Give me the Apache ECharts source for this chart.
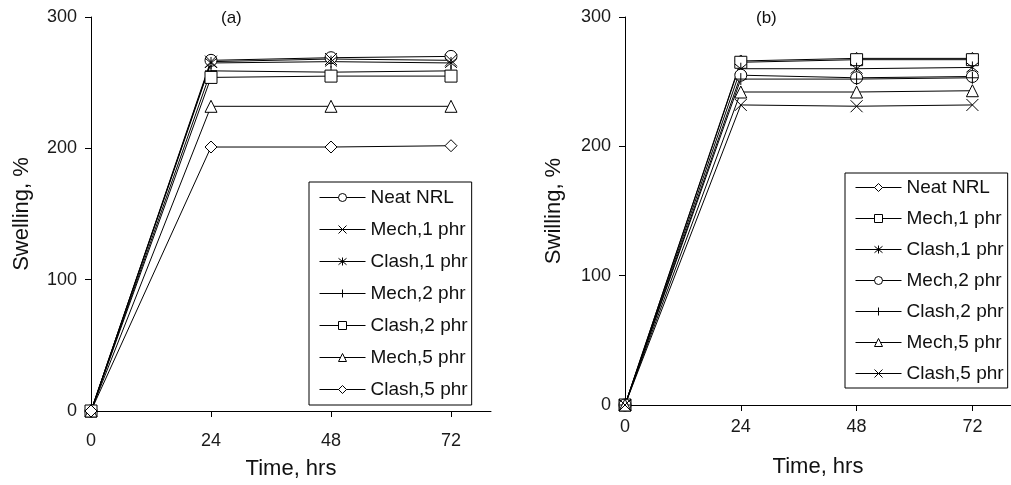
<!DOCTYPE html>
<html>
<head>
<meta charset="utf-8">
<title>Swelling vs time</title>
<script src="https://cdn.jsdelivr.net/npm/echarts@6/dist/echarts.min.js"></script>
<style>
  html, body { margin: 0; padding: 0; background: #fff; }
  #main { width: 1011px; height: 485px; }
</style>
</head>
<body>
<div id="main"></div>
<script type="text/javascript">
// time points (hrs)
var hours = [0, 24, 48, 72];

// panel (a)
var namesA = ['Neat NRL', 'Mech,1 phr', 'Clash,1 phr', 'Mech,2 phr', 'Clash,2 phr', 'Mech,5 phr', 'Clash,5 phr'];
var neatA   = [0, 267, 269, 270];
var mech1A  = [0, 266, 268, 267];
var clash1A = [0, 265, 266, 265];
var mech2A  = [0, 259, 258, 259];
var clash2A = [0, 254, 255, 255];
var mech5A  = [0, 232, 232, 232];
var clash5A = [0, 201, 201, 202];

// panel (b)
var namesB = ['Neat NRL', 'Mech,1 phr', 'Clash,1 phr', 'Mech,2 phr', 'Clash,2 phr', 'Mech,5 phr', 'Clash,5 phr'];
var neatB   = [0, 266, 268, 268];
var mech1B  = [0, 265, 267, 267];
var clash1B = [0, 260, 260, 261];
var mech2B  = [0, 255, 253, 254];
var clash2B = [0, 252, 252, 253];
var mech5B  = [0, 242, 242, 243];
var clash5B = [0, 232, 231, 232];

var xTicks = [0, 24, 48, 72];

// marker shapes
var SYM = {
    circle: 'circle',
    square: 'rect',
    triangle: 'triangle',
    diamond: 'diamond',
    cross: 'path://M0,0L10,10M10,0L0,10',
    star: 'path://M0,1L10,9M10,1L0,9M5,0L5,10',
    plus: 'path://M5,0L5,10M0,5L10,5'
};

var FONT = 'Liberation Sans, Arial, sans-serif';

function pairs(vals) {
    return hours.map(function (h, i) { return [h, vals[i]]; });
}

function mkSeries(prefix, name, vals, sym, idx) {
    return {
        name: prefix + name,
        type: 'line',
        xAxisIndex: idx,
        yAxisIndex: idx,
        data: pairs(vals),
        symbol: sym,
        symbolSize: 12,
        showAllSymbol: true,
        lineStyle: { color: '#000', width: 1 },
        itemStyle: { color: '#fff', borderColor: '#000', borderWidth: 1 },
        emphasis: { disabled: true }
    };
}

var symA = [SYM.circle, SYM.cross, SYM.star, SYM.plus, SYM.square, SYM.triangle, SYM.diamond];
var symB = [SYM.diamond, SYM.square, SYM.star, SYM.circle, SYM.plus, SYM.triangle, SYM.cross];
var valsA = [neatA, mech1A, clash1A, mech2A, clash2A, mech5A, clash5A];
var valsB = [neatB, mech1B, clash1B, mech2B, clash2B, mech5B, clash5B];

var series = [];
namesA.forEach(function (n, i) { series.push(mkSeries('a:', n, valsA[i], symA[i], 0)); });
namesB.forEach(function (n, i) { series.push(mkSeries('b:', n, valsB[i], symB[i], 1)); });

function xAxisCfg(idx, margin, gap) {
    return {
        type: 'value', gridIndex: idx, min: 0, max: 80,
        name: 'Time, hrs', nameLocation: 'middle', nameGap: gap,
        nameTextStyle: { fontFamily: FONT, fontSize: 22, color: '#111' },
        axisLine: { lineStyle: { color: '#000', width: 1 } },
        axisTick: { show: true, length: 6, inside: false, customValues: [24, 48, 72], lineStyle: { color: '#000' } },
        axisLabel: { customValues: xTicks, margin: margin, fontFamily: FONT, fontSize: 18, color: '#1a1a1a' },
        splitLine: { show: false }
    };
}

function yAxisCfg(idx, name, gap) {
    return {
        type: 'value', gridIndex: idx, min: 0, max: 300, interval: 100,
        name: name, nameLocation: 'middle', nameGap: gap,
        nameTextStyle: { fontFamily: FONT, fontSize: 22, color: '#111' },
        axisLine: { show: true, lineStyle: { color: '#000', width: 1 } },
        axisTick: { show: true, length: 6, lineStyle: { color: '#000' } },
        axisLabel: { margin: 14, fontFamily: FONT, fontSize: 18, color: '#1a1a1a' },
        splitLine: { show: false }
    };
}

function legendCfg(prefix, names, left, top, gap, padV) {
    return {
        orient: 'vertical', left: left, top: top,
        data: names.map(function (n) { return prefix + n; }),
        formatter: function (n) { return n.slice(2); },
        itemWidth: 46, itemHeight: 10, itemGap: gap,
        padding: [padV, 4, padV, 10],
        borderColor: '#000', borderWidth: 1,
        selectedMode: false,
        lineStyle: { width: 1, color: '#000' },
        itemStyle: { borderWidth: 1, borderColor: '#000' },
        textStyle: { fontFamily: FONT, fontSize: 19, color: '#111' }
    };
}

var chart = echarts.init(document.getElementById('main'), null, { renderer: 'canvas' });
chart.setOption({
    animation: false,
    backgroundColor: '#fff',
    title: [
        { text: '(a)', left: 216, top: 5, textStyle: { fontFamily: FONT, fontSize: 17, fontWeight: 'normal', color: '#111' } },
        { text: '(b)', left: 751, top: 5, textStyle: { fontFamily: FONT, fontSize: 17, fontWeight: 'normal', color: '#111' } }
    ],
    grid: [
        { left: 91, top: 17, width: 400, height: 394 },
        { left: 625, top: 17, width: 400, height: 388 }
    ],
    xAxis: [xAxisCfg(0, 21, 47), xAxisCfg(1, 13, 51)],
    yAxis: [yAxisCfg(0, 'Swelling, %', 58), yAxisCfg(1, 'Swilling, %', 60)],
    legend: [
        legendCfg('a:', namesA, 309, 182, 13, 6),
        legendCfg('b:', namesB, 845, 173, 12, 5)
    ],
    series: series
});
</script>
</body>
</html>
